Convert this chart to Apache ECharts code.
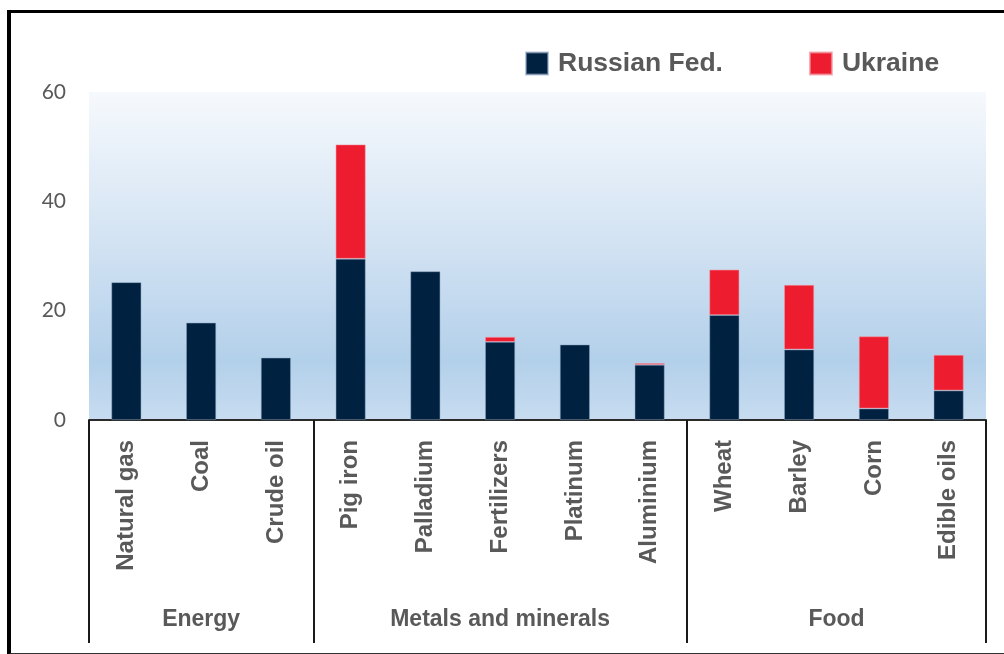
<!DOCTYPE html>
<html>
<head>
<meta charset="utf-8">
<script src="https://cdn.jsdelivr.net/npm/echarts@6/dist/echarts.min.js"></script>
<style>
  html, body { margin: 0; padding: 0; background: #ffffff; }
  #wrap { position: relative; width: 1004px; height: 654px; overflow: hidden; }
  #chart { position: absolute; left: 0; top: 0; width: 1004px; height: 654px; }
  #frame { position: absolute; left: 7px; top: 10px; width: 1010px; height: 640px;
           border-top: 3px solid #000; border-left: 4px solid #000; border-bottom: 2px solid #333;
           pointer-events: none; }
</style>
</head>
<body>
<div id="wrap">
  <div id="chart"></div>
  <div id="frame"></div>
</div>
<script>
// ---- data ----
const categories = ['Natural gas', 'Coal', 'Crude oil', 'Pig iron', 'Palladium', 'Fertilizers',
                    'Platinum', 'Aluminium', 'Wheat', 'Barley', 'Corn', 'Edible oils'];
const russia  = [25.2, 17.8, 11.4, 29.5, 27.2, 14.3, 13.8, 10.1, 19.2, 12.9, 2.1, 5.4];
const ukraine = [0, 0, 0, 20.9, 0, 0.9, 0, 0.3, 8.3, 11.8, 13.2, 6.5];
const groups = ['Energy', 'Metals and minerals', 'Food'];
const groupSizes = [3, 5, 4];
const yTicks = [0, 20, 40, 60];

// ---- build group axis (half-category points) ----
const nPts = categories.length * 2 + 1;
const groupAxisData = new Array(nPts).fill('');
const boundaryIdx = [0];
const labelIdx = [];
let acc = 0;
groups.forEach((g, i) => {
  const start = acc * 2;
  const end = (acc + groupSizes[i]) * 2;
  const mid = (start + end) / 2;
  groupAxisData[mid] = g;
  labelIdx.push(mid);
  boundaryIdx.push(end);
  acc += groupSizes[i];
});

const labelColor = '#595959';
const chart = echarts.init(document.getElementById('chart'));
chart.setOption({
  animation: false,
  backgroundColor: '#ffffff',
  legend: {
    left: 520, top: 45,
    itemWidth: 22, itemHeight: 22, itemGap: 86,
    icon: 'rect',
    textStyle: { fontFamily: 'Liberation Sans, Arial, sans-serif', fontSize: 26.5, fontWeight: 'bold',
                 color: labelColor, padding: [0, 0, 4, 5] },
    data: ['Russian Fed.', 'Ukraine']
  },
  grid: {
    left: 89, right: 18, top: 92, bottom: 234,
    show: true, borderWidth: 0,
    backgroundColor: {
      type: 'linear', x: 0, y: 0, x2: 0, y2: 1,
      colorStops: [
        { offset: 0, color: '#F6F9FD' },
        { offset: 0.45, color: '#D3E3F3' },
        { offset: 0.82, color: '#B3D0EA' },
        { offset: 1, color: '#C7DCF0' }
      ]
    }
  },
  xAxis: [
    {
      type: 'category', data: categories,
      axisLine: { show: true, lineStyle: { color: '#2b2b2b', width: 2 } },
      axisTick: { show: false },
      axisLabel: { interval: 0, rotate: 90, margin: 20, color: labelColor,
                   fontFamily: 'Liberation Sans, Arial, sans-serif', fontSize: 24, fontWeight: 'bold' },
      splitLine: { show: false }
    },
    {
      type: 'category', data: groupAxisData, boundaryGap: false, position: 'bottom',
      axisLine: { show: false },
      axisTick: { show: true, length: 223, interval: (i) => boundaryIdx.includes(i),
                  lineStyle: { color: '#1a1a1a', width: 2 } },
      axisLabel: { interval: (i) => labelIdx.includes(i), margin: 188, color: labelColor,
                   fontFamily: 'Liberation Sans, Arial, sans-serif', fontSize: 23, fontWeight: 'bold' },
      splitLine: { show: false }
    }
  ],
  yAxis: {
    type: 'value', min: yTicks[0], max: yTicks[yTicks.length - 1], interval: 20,
    axisLine: { show: false }, axisTick: { show: false }, splitLine: { show: false },
    axisLabel: { margin: 23, color: labelColor, fontFamily: 'Lato, Open Sans, sans-serif', fontSize: 21 }
  },
  series: [
    {
      name: 'Russian Fed.', type: 'bar', stack: 'total', data: russia, barWidth: 30,
      itemStyle: { color: '#00213F', borderColor: 'rgba(140,165,195,0.6)', borderWidth: 0.8 }
    },
    {
      name: 'Ukraine', type: 'bar', stack: 'total',
      data: ukraine.map(v => (v === 0 ? null : v)), barWidth: 30,
      itemStyle: { color: '#ED1C2E', borderColor: 'rgba(240,150,160,0.7)', borderWidth: 0.8 }
    }
  ]
});
</script>
</body>
</html>
